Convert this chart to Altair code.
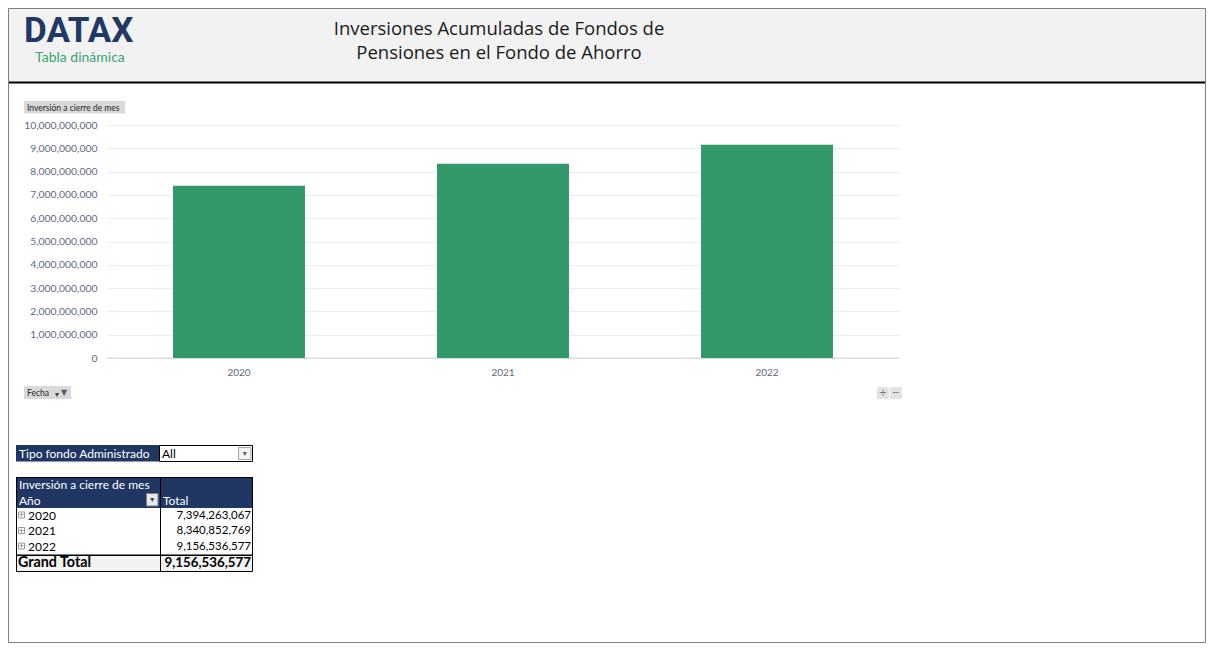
import altair as alt
import pandas as pd

# ---------------- data ----------------
years = ["2020", "2021", "2022"]
inversion = [7394263067, 8340852769, 9156536577]
grand_total = 9156536577
y_ticks = [0, 1000000000, 2000000000, 3000000000, 4000000000, 5000000000,
           6000000000, 7000000000, 8000000000, 9000000000, 10000000000]

title_lines = ["Inversiones Acumuladas de Fondos de", "Pensiones en el Fondo de Ahorro"]
filter_label = "Tipo fondo Administrado"
filter_value = "All"

# ---------------- layout ----------------
OX, OY = 107, 125          # plot-area origin in page pixels
W, H = 792, 233
TOTAL_W, TOTAL_H = 1198, 635
GREEN = "#33996b"
NAVY = "#203764"
FONT = "Lato"

def vx(x):
    return x - OX

def vy(y):
    return y - OY

# ---------------- bars ----------------
bars_df = pd.DataFrame({"Año": years, "Inversión": inversion})
bars = alt.Chart(bars_df).mark_bar(color=GREEN).encode(
    x=alt.X("Año:N", title=None,
            scale=alt.Scale(paddingInner=0.5, paddingOuter=0.25),
            axis=alt.Axis(labelAngle=0, ticks=False, domain=False, grid=False,
                          labelFont=FONT, labelFontSize=10, labelColor="#5f6880",
                          labelPadding=9)),
    y=alt.Y("Inversión:Q", title=None,
            scale=alt.Scale(domain=[0, 10000000000], nice=False),
            axis=alt.Axis(values=y_ticks, format=",.0f", ticks=False, tickSize=0,
                          domain=False, grid=True, gridColor="#ebebf3",
                          labelFont=FONT, labelFontSize=10.4, labelColor="#5f6880",
                          labelPadding=10)),
)

# ---------------- decoration rects ----------------
def R(x0, y0, x1, y1, fill, stroke="transparent", sw=0):
    return {"x": vx(x0), "x2": vx(x1), "y": vy(y0), "y2": vy(y1),
            "fill": fill, "stroke": stroke, "sw": sw}

row_y = [515.5 + 15.5 * i for i in range(len(years))]

rects = [
    R(8, 8, 1206, 81.5, "#f2f2f2"),
    R(8, 81.5, 1206, 83.5, "#000000"),
    R(24, 101, 125, 113.5, "#d9d9d9"),
    R(24, 386, 71, 399, "#d9d9d9"),
    R(877, 387, 889, 399, "#e3e3e3"),
    R(890, 387, 902, 399, "#e3e3e3"),
    R(OX, OY + H - 0.5, OX + W, OY + H + 0.8, "#d9d9d9"),
    R(16, 445, 159, 461.5, NAVY),
    R(159.5, 445.5, 252.5, 461.5, "#ffffff", "#000000", 1),
    R(238.5, 447.5, 251, 459.5, "#f3f3f3", "#a6a6a6", 1),
    R(16, 477, 253, 508, NAVY),
    R(146.5, 493.5, 158, 506, "#e8e8e8", "#808080", 1),
    R(16, 555, 253, 571, "#f2f2f2"),
    R(16, 554.5, 253, 556, "#000000"),
    R(160, 477, 161, 571, "#000000"),
    R(16.5, 477.5, 252.5, 571.5, "transparent", "#000000", 1),
    R(8.5, 8.5, 1205.5, 642.5, "transparent", "#808080", 1),
]
for yy in row_y:
    rects.append(R(18.5, yy - 3.5, 24.5, yy + 2.5, "#ffffff", "#9a9a9a", 1))
back_rects = pd.DataFrame(rects)

def rect_layer(df):
    return alt.Chart(df).mark_rect().encode(
        x=alt.X("x:Q", scale=None, axis=None),
        x2="x2:Q",
        y=alt.Y("y:Q", scale=None, axis=None),
        y2="y2:Q",
        fill=alt.Fill("fill:N", scale=None, legend=None),
        stroke=alt.Stroke("stroke:N", scale=None, legend=None),
        strokeWidth=alt.StrokeWidth("sw:Q", scale=None, legend=None),
    )

# ---------------- texts ----------------
def T(x, y, text, color):
    return {"x": vx(x), "y": vy(y), "text": text, "color": color}

def text_layer(rows, align="left", font=FONT, size=12, weight="normal"):
    df = pd.DataFrame(rows)
    return alt.Chart(df).mark_text(align=align, baseline="middle", font=font,
                                   fontSize=size, fontWeight=weight).encode(
        x=alt.X("x:Q", scale=None, axis=None),
        y=alt.Y("y:Q", scale=None, axis=None),
        text="text:N",
        color=alt.Color("color:N", scale=None, legend=None),
    )

logo = text_layer([T(24, 30.5, "DATAX", "#1f3864")], font="Roboto", size=35, weight="bold")
logo_sub = text_layer([T(35, 57.5, "Tabla dinámica", "#3aa36f")], size=14)
title = text_layer([T(499, 29, title_lines[0], "#1a1a1a"),
                    T(499, 53, title_lines[1], "#1a1a1a")],
                   align="center", font="Open Sans", size=18.5)
buttons = text_layer([T(27, 107.5, "Inversión a cierre de mes", "#262626"),
                      T(27, 393, "Fecha", "#262626")], size=8.5)
btn_icons = text_layer([T(883, 393, "+", "#808080"), T(896, 393, "−", "#808080")],
                       align="center", font="DejaVu Sans", size=10)
fecha_icons = text_layer([T(57, 394.5, "▾", "#404040"), T(64, 392.5, "▼", "#595959")],
                         align="center", font="DejaVu Sans", size=8)

hdr_texts = text_layer([T(19, 453.5, filter_label, "#ffffff"),
                        T(162, 453.5, filter_value, "#000000"),
                        T(19, 484.5, "Inversión a cierre de mes", "#ffffff"),
                        T(19, 500.5, "Año", "#ffffff"),
                        T(163, 500.5, "Total", "#ffffff")], size=12)
small_icons = text_layer([T(244.8, 453.5, "▾", "#606060"),
                          T(152.3, 500, "▾", "#404040")],
                         align="center", font="DejaVu Sans", size=8)
plus_icons = text_layer([T(21.5, row_y[i] - 0.5, "+", "#707070") for i in range(len(years))],
                        align="center", font="DejaVu Sans", size=7)

year_texts = text_layer([T(28, row_y[i], years[i], "#000000") for i in range(len(years))], size=12)
value_texts = text_layer([T(251, row_y[i], f"{inversion[i]:,}", "#000000") for i in range(len(years))],
                         align="right", size=11.5)
grand_texts_l = text_layer([T(18, 563, "Grand Total", "#000000")], size=14.3, weight="bold")
grand_texts_r = text_layer([T(251, 563, f"{grand_total:,}", "#000000")], align="right", size=13.3, weight="bold")

chart = alt.layer(
    rect_layer(back_rects),
    bars,
    logo, logo_sub, title, buttons, btn_icons, fecha_icons,
    hdr_texts, small_icons, plus_icons, year_texts, value_texts,
    grand_texts_l, grand_texts_r,
).properties(
    width=W, height=H,
    padding={"left": OX - 8, "top": OY - 8,
             "right": TOTAL_W - (OX - 8) - W, "bottom": TOTAL_H - (OY - 8) - H},
    autosize=alt.AutoSizeParams(type="none"),
    background="#ffffff",
).configure_view(stroke=None)

chart.save("out.html", embed_options={"renderer": "svg", "actions": False})
